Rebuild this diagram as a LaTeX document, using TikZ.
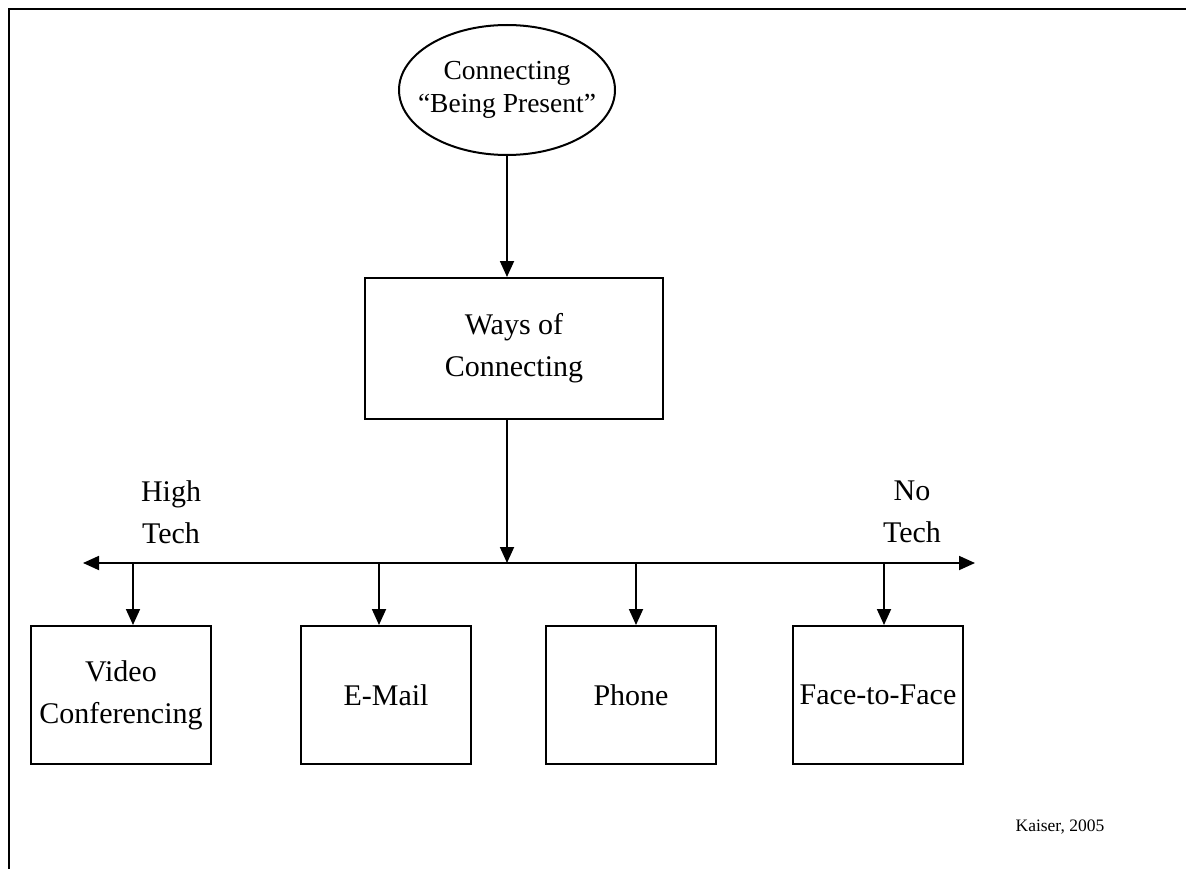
\documentclass[tikz,border=0pt]{standalone}
\usepackage{fontspec}
\setmainfont{Liberation Serif}
\usetikzlibrary{arrows.meta,shapes.geometric}
\begin{document}
\begin{tikzpicture}[x=1pt,y=-1pt,
  line width=1.8pt,
  tip/.tip={Triangle[length=16pt,width=14pt]},
  arr/.style={-tip},
  label/.style={font=\fontsize{30}{42}\selectfont,align=center,inner sep=0pt},
  box/.style={draw,line width=2pt,label,minimum width=#1,minimum height=138pt},
  box/.default=170pt]
\useasboundingbox (0,0) rectangle (1186,869);
% frame (top and left edges)
\draw[line width=2.8pt] (9,869) -- (9,9) -- (1186,9);

% top of the hierarchy
\node[draw,ellipse,line width=2pt,font=\fontsize{27.5}{33}\selectfont,align=center,
      inner xsep=-20pt,inner ysep=0pt,minimum width=216pt,minimum height=130pt]
  (top) at (507,90) {Connecting\\“Being Present”};
\node[draw,line width=2pt,label,minimum width=298pt,minimum height=141pt]
  (ways) at (514,348.5) {Ways of\\Connecting};

% tech axis
\coordinate (axL) at (83,563);
\coordinate (axR) at (975,563);
\coordinate (axM) at (507,563);
\draw[tip-tip] (axL) -- (axR);
\node[label] (high) at (171,512) {High\\Tech};
\node[label] (notech) at (912,512) {No\\Tech};

\draw[arr] (top.south -| axM) -- (ways.north -| axM);
\draw[arr] (ways.south -| axM) -- (axM);

% channels
\node[box=180pt] (video) at (121,695) {Video\\Conferencing};
\node[box=170pt] (email) at (386,695) {E-Mail};
\node[box=170pt] (phone) at (631,695) {Phone};
\node[box=170pt] (face) at (878,695) {Face-to-Face};

\coordinate (b1) at (133,563);
\coordinate (b2) at (379,563);
\coordinate (b3) at (636,563);
\coordinate (b4) at (884,563);
\draw[arr] (b1) -- (b1 |- video.north);
\draw[arr] (b2) -- (b2 |- email.north);
\draw[arr] (b3) -- (b3 |- phone.north);
\draw[arr] (b4) -- (b4 |- face.north);

\node[font=\fontsize{17.5}{20}\selectfont,inner sep=0pt] (src) at (1060,827) {Kaiser, 2005};
\end{tikzpicture}
\end{document}
